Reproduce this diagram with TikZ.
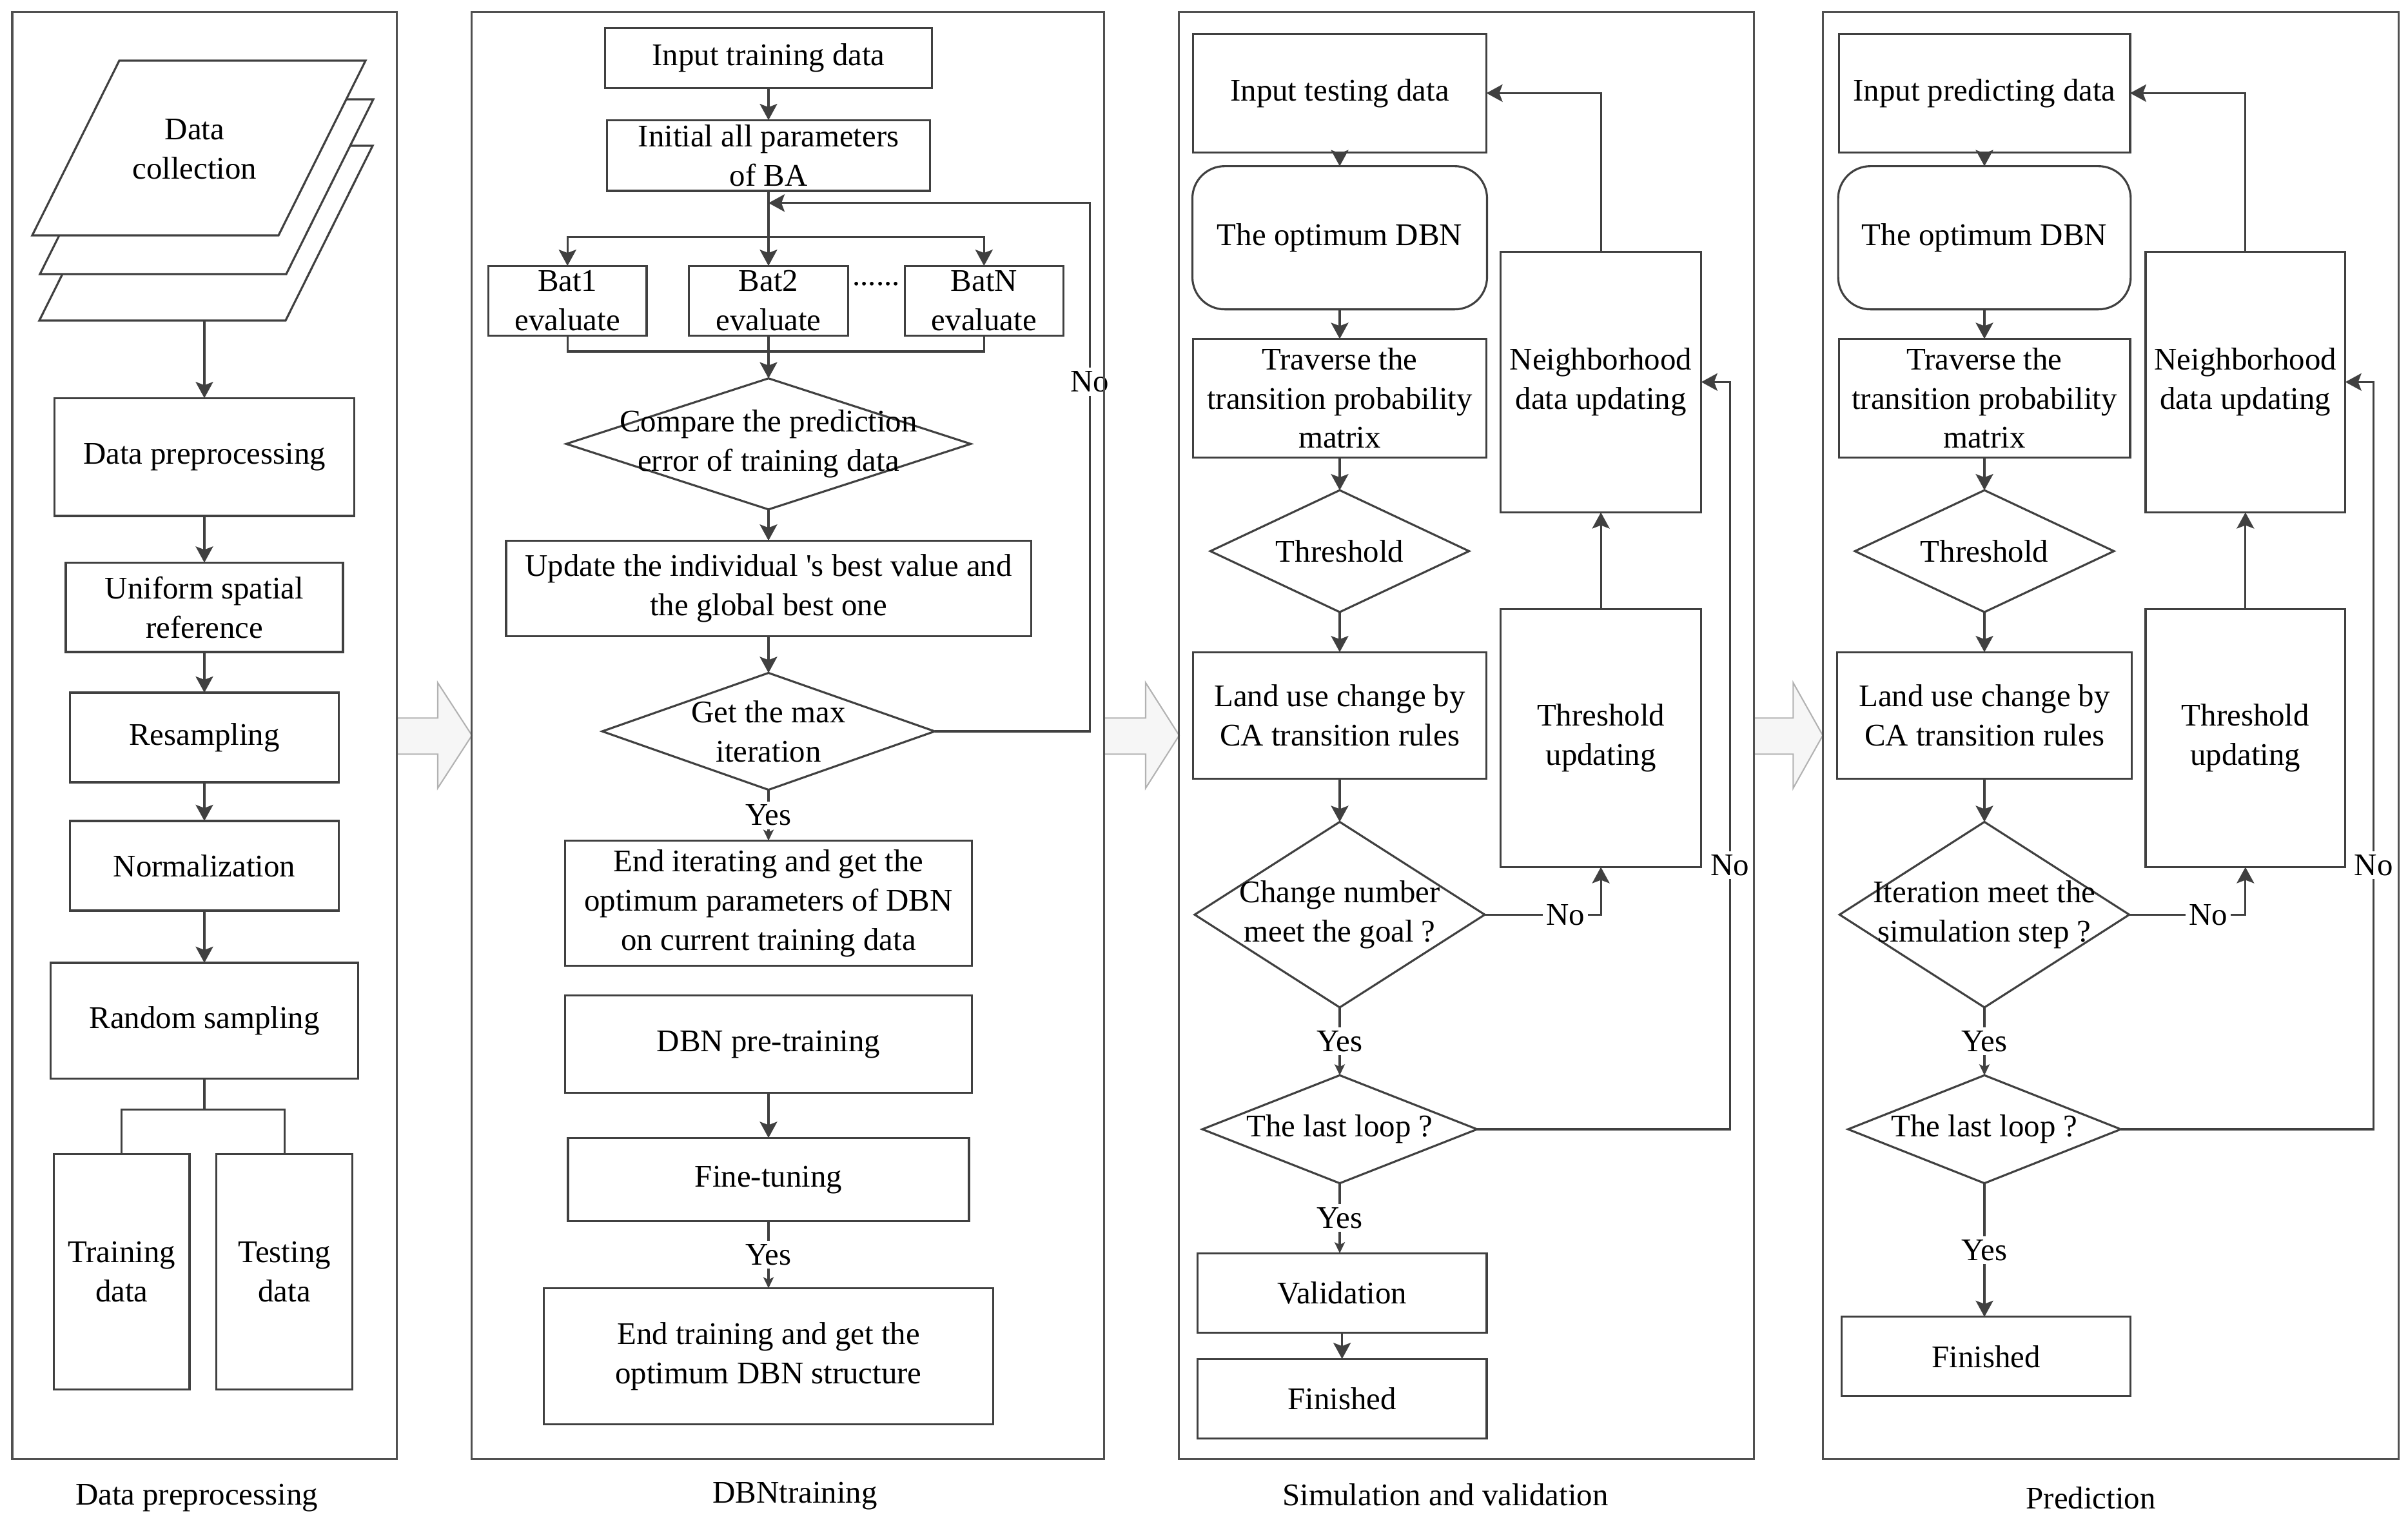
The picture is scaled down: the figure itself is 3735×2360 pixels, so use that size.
\documentclass[tikz,border=0pt]{standalone}
\usepackage{fontspec}
\setmainfont{Liberation Serif}
\usetikzlibrary{arrows.meta,shapes.geometric}
\definecolor{lncol}{HTML}{404040}
\definecolor{pcol}{HTML}{505050}
\newcommand{\mainsz}{\fontsize{13.9pt}{17.3pt}\selectfont}
\tikzset{
 cline/.style={draw=lncol, line width=0.9pt},
 box/.style={draw=lncol, line width=0.9pt, fill=white, inner sep=0pt, outer sep=0pt, align=center, font=\mainsz},
 dia/.style={diamond, draw=lncol, line width=0.9pt, inner sep=0pt, outer sep=0pt},
 txt/.style={align=center, inner sep=0pt, font=\mainsz},
 lbl/.style={fill=white, inner sep=1.5pt, font=\mainsz},
 arr/.style={cline, -{Stealth[length=2.5mm,width=2.7mm,inset=0.5mm]}},
 sarr/.style={cline, -{Stealth[length=1.7mm,width=1.6mm,inset=0.4mm]}},
 panel/.style={draw=pcol, line width=0.9pt},
 bigarr/.style={draw=gray!60, fill=gray!7, line width=0.6pt},
}
\begin{document}
\begin{tikzpicture}[x=0.01cm,y=-0.01cm]
\useasboundingbox (0,0) rectangle (3735,2360);
% big hollow arrows
\draw[bigarr] (616,1113.3) -- (679,1113.3) -- (679,1058.7) -- (732,1140.3) -- (679,1222) -- (679,1169.4) -- (616,1169.4) -- cycle;
\draw[bigarr] (1712.3,1113.3) -- (1777,1113.3) -- (1777,1058.7) -- (1829,1140.3) -- (1777,1222) -- (1777,1169.4) -- (1712.3,1169.4) -- cycle;
\draw[bigarr] (2720.3,1113.3) -- (2781.4,1113.3) -- (2781.4,1058.7) -- (2827.3,1140.3) -- (2781.4,1222) -- (2781.4,1169.4) -- (2720.3,1169.4) -- cycle;

% ===== Panel 1 =====
\draw[cline, fill=white] (61,497) -- (443,497) -- (578,226) -- (196,226) -- cycle;
\draw[cline, fill=white] (62,425) -- (444,425) -- (579,154) -- (197,154) -- cycle;
\draw[cline, fill=white] (50,365) -- (432,365) -- (567,94) -- (185,94) -- cycle;
\node[txt] (dc) at (302,231) {Data\\collection};
\coordinate (dcb) at (317,497);
\node[box, minimum width=4.644cm, minimum height=1.827cm] (dp) at (317,708.65) {Data preprocessing};
\node[box, minimum width=4.296cm, minimum height=1.386cm] (usr) at (317,941.7) {Uniform spatial\\reference};
\node[box, minimum width=4.17cm, minimum height=1.39cm] (rs) at (317,1143.5) {Resampling};
\node[box, minimum width=4.17cm, minimum height=1.39cm] (nm) at (317,1342.5) {Normalization};
\node[box, minimum width=4.76cm, minimum height=1.798cm] (rnd) at (317,1582.9) {Random sampling};
\node[box, minimum width=2.103cm, minimum height=3.644cm] (trd) at (188.85,1971.8) {Training\\data};
\node[box, minimum width=2.109cm, minimum height=3.644cm] (ted) at (441.25,1971.8) {Testing\\data};
\draw[arr] (dcb) -- (dp.north);
\draw[arr] (dp.south) -- (usr.north);
\draw[arr] (usr.south) -- (rs.north);
\draw[arr] (rs.south) -- (nm.north);
\draw[arr] (nm.south) -- (rnd.north);
\coordinate (rj) at (317,1720.5);
\draw[cline] (rnd.south) -- (rj);
\draw[cline] (trd.north) |- (rj);
\draw[cline] (rj) -| (ted.north);

% ===== Panel 2 =====
\node[box, minimum width=5.073cm, minimum height=0.928cm] (itd) at (1192,89.8) {Input training data};
\node[box, minimum width=5.009cm, minimum height=1.098cm] (ini) at (1192,241.1) {Initial all parameters\\of BA};
\node[box, minimum width=2.455cm, minimum height=1.082cm] (bat1) at (880.25,466.3) {Bat1\\evaluate};
\node[box, minimum width=2.463cm, minimum height=1.082cm] (bat2) at (1192,466.3) {Bat2\\evaluate};
\node[box, minimum width=2.454cm, minimum height=1.082cm] (batn) at (1526.3,466.3) {BatN\\evaluate};
\node[txt] (dots) at (1359,440) {......};
\node[dia, minimum width=6.27cm, minimum height=2.031cm] (cmp) at (1192,688.3) {};
\node[txt] (cmpt) at (cmp) {Compare the prediction\\error of training data};
\node[box, minimum width=8.137cm, minimum height=1.479cm] (upd) at (1192,912.25) {Update the individual \textquotesingle s best value and\\the global best one};
\node[dia, minimum width=5.155cm, minimum height=1.811cm] (gmx) at (1192,1134) {};
\node[txt] (gmxt) at (gmx) {Get the max\\iteration};
\node[box, minimum width=6.312cm, minimum height=1.938cm] (eit) at (1192,1400.5) {End iterating and get the\\optimum parameters of DBN\\on current training data};
\node[box, minimum width=6.305cm, minimum height=1.508cm] (pre) at (1192,1619.3) {DBN pre-training};
\node[box, minimum width=6.216cm, minimum height=1.294cm] (fin) at (1192,1829.1) {Fine-tuning};
\node[box, minimum width=6.973cm, minimum height=2.112cm] (etr) at (1192,2103.1) {End training and get the\\optimum DBN structure};
\draw[arr] (itd.south) -- (ini.north);
\draw[arr] (ini.south) -- (bat2.north);
\coordinate (br) at (1192,367.3);
\draw[arr] (br) -| (bat1.north);
\draw[arr] (br) -| (batn.north);
\coordinate (mg) at (1192,545);
\draw[cline] (bat1.south) |- (mg);
\draw[cline] (batn.south) |- (mg);
\draw[arr] (bat2.south) -- (cmp.north);
\draw[arr] (cmp.south) -- (upd.north);
\draw[arr] (upd.south) -- (gmx.north);
\coordinate (fbr) at (1690.5,314.8);
\coordinate (fbt) at (1192,314.8);
\draw[arr] (gmx.east) -| (fbr) -- (fbt);
\node[lbl] (no1) at (1690.5,592) {No};
\draw[sarr] (gmx.south) -- (eit.north) node[lbl, midway] (yes1) {Yes};
\draw[arr] (pre.south) -- (fin.north);
\draw[sarr] (fin.south) -- (etr.north) node[lbl, midway] (yes2) {Yes};

% ===== Panel 3 =====
\node[box, minimum width=4.548cm, minimum height=1.836cm] (itst) at (2078,144.4) {Input testing data};
\node[box, rounded corners=0.5cm, minimum width=4.568cm, minimum height=2.219cm] (odbn) at (2078,368.65) {The optimum DBN};
\node[box, minimum width=4.548cm, minimum height=1.837cm] (trv) at (2078,617.35) {Traverse the\\transition probability\\matrix};
\node[dia, minimum width=4.011cm, minimum height=1.888cm] (thr) at (2078,854.6) {};
\node[txt] (thrt) at (thr) {Threshold};
\node[box, minimum width=4.548cm, minimum height=1.964cm] (lnd) at (2078,1109.4) {Land use change by\\CA transition rules};
\node[dia, minimum width=4.497cm, minimum height=2.875cm] (chg) at (2078,1418.25) {};
\node[txt] (chgt) at (chg) {Change number\\meet the goal ?};
\node[dia, minimum width=4.26cm, minimum height=1.673cm] (lst) at (2078,1751) {};
\node[txt] (lstt) at (lst) {The last loop ?};
\node[box, minimum width=4.484cm, minimum height=1.234cm] (val) at (2081.6,2004.9) {Validation};
\node[box, minimum width=4.484cm, minimum height=1.234cm] (fsh) at (2081.6,2168.9) {Finished};
\node[box, minimum width=3.112cm, minimum height=4.041cm] (nbh) at (2483.1,592.35) {Neighborhood\\data updating};
\node[box, minimum width=3.112cm, minimum height=3.995cm] (tup) at (2483.1,1144.65) {Threshold\\updating};
\draw[arr] (itst.south) -- (odbn.north);
\draw[arr] (odbn.south) -- (trv.north);
\draw[arr] (trv.south) -- (thr.north);
\draw[arr] (thr.south) -- (lnd.north);
\draw[arr] (lnd.south) -- (chg.north);
\draw[sarr] (chg.south) -- (lst.north) node[lbl, midway] (yes3) {Yes};
\draw[sarr] (lst.south) -- (lst.south |- val.north) node[lbl, midway] (yes4) {Yes};
\draw[arr] (val.south) -- (val.south |- fsh.north);
\draw[arr] (nbh.north) |- (itst.east);
\draw[arr] (tup.north) -- (nbh.south);
\draw[arr] (chg.east) -| (tup.south);
\node[lbl] (no2) at (2428,1418.25) {No};
\coordinate (r3) at (2683.3,1751);
\draw[arr] (lst.east) -- (r3) |- (nbh.east);
\node[lbl] (no3) at (2683.3,1341.8) {No};

% ===== Panel 4 =====
\node[box, minimum width=4.516cm, minimum height=1.836cm] (ipd) at (3078,144.4) {Input predicting data};
\node[box, rounded corners=0.5cm, minimum width=4.535cm, minimum height=2.219cm] (odbnb) at (3078,368.65) {The optimum DBN};
\node[box, minimum width=4.516cm, minimum height=1.837cm] (trvb) at (3078,617.35) {Traverse the\\transition probability\\matrix};
\node[dia, minimum width=4.015cm, minimum height=1.888cm] (thrb) at (3078,854.6) {};
\node[txt] (thrbt) at (thrb) {Threshold};
\node[box, minimum width=4.567cm, minimum height=1.964cm] (lndb) at (3078,1109.4) {Land use change by\\CA transition rules};
\node[dia, minimum width=4.491cm, minimum height=2.875cm] (itr) at (3078,1418.25) {};
\node[txt] (itrt) at (itr) {Iteration meet the\\simulation step ?};
\node[dia, minimum width=4.228cm, minimum height=1.673cm] (lstb) at (3078,1751) {};
\node[txt] (lstbt) at (lstb) {The last loop ?};
\node[box, minimum width=4.472cm, minimum height=1.229cm] (fshb) at (3080.4,2103.35) {Finished};
\node[box, minimum width=3.096cm, minimum height=4.041cm] (nbhb) at (3482.8,592.35) {Neighborhood\\data updating};
\node[box, minimum width=3.096cm, minimum height=3.995cm] (tupb) at (3482.8,1144.65) {Threshold\\updating};
\draw[arr] (ipd.south) -- (odbnb.north);
\draw[arr] (odbnb.south) -- (trvb.north);
\draw[arr] (trvb.south) -- (thrb.north);
\draw[arr] (thrb.south) -- (lndb.north);
\draw[arr] (lndb.south) -- (itr.north);
\draw[sarr] (itr.south) -- (lstb.north) node[lbl, midway] (yes5) {Yes};
\draw[arr] (lstb.south) -- (lstb.south |- fshb.north) node[lbl, midway] (yes6) {Yes};
\draw[arr] (nbhb.north) |- (ipd.east);
\draw[arr] (tupb.north) -- (nbhb.south);
\draw[arr] (itr.east) -| (tupb.south);
\node[lbl] (no4) at (3425.3,1418.25) {No};
\coordinate (r4) at (3681.6,1751);
\draw[arr] (lstb.east) -- (r4) |- (nbhb.east);
\node[lbl] (no5) at (3681.6,1341.8) {No};

% ===== Panels =====
\draw[panel] (19,18.9) rectangle (615.6,2262.4);
\draw[panel] (731.6,18.9) rectangle (1712.3,2262.4);
\draw[panel] (1828.7,18.9) rectangle (2720.3,2262.4);
\draw[panel] (2827.3,18.9) rectangle (3720.6,2262.4);
\node[txt] (cap1) at (305,2322.7) {Data preprocessing};
\node[txt] (cap2) at (1233,2320) {DBNtraining};
\node[txt] (cap3) at (2242,2317.3) {Simulation and validation};
\node[txt] (cap4) at (3243,2322.7) {Prediction};
\end{tikzpicture}
\end{document}
